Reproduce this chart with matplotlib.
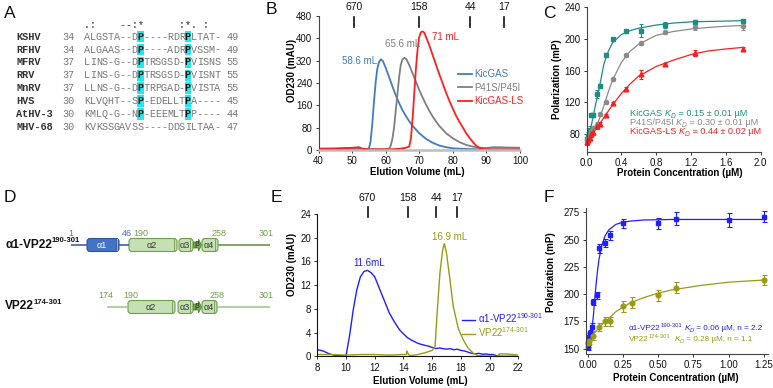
import numpy as np
import matplotlib
matplotlib.use("Agg")
import matplotlib.pyplot as plt
from matplotlib.patches import FancyBboxPatch, Rectangle, Polygon
from matplotlib.lines import Line2D
import matplotlib.transforms as mtrans

plt.rcParams['font.family'] = ['Liberation Sans', 'DejaVu Sans']
plt.rcParams['mathtext.fontset'] = 'custom'
plt.rcParams['mathtext.rm'] = 'Liberation Sans'
plt.rcParams['mathtext.it'] = 'Liberation Sans:italic'
plt.rcParams['mathtext.bf'] = 'Liberation Sans:bold'

# ---------------- Panel A data ----------------
aln_names = ['KSHV', 'RFHV', 'MFRV', 'RRV', 'MnRV', 'HVS', 'AtHV-3', 'MHV-68']
aln_start = [34, 34, 37, 37, 37, 30, 30, 30]
aln_seqs = ['ALGSTA--DP----RDRPLTAT-',
            'ALGAAS--DP----ADRPVSSM-',
            'LINS-G--DPTRSGSD-PVISNS',
            'LINS-G--DPTRSGSD-PVISNT',
            'LLNS-G--DPTRPGAD-PVISTA',
            'KLVQHT--SP-EDELLTPA----',
            'KMLQ-G--NP-EEEMLTPP----',
            'KVKSSGAVSS----DDSILTAA-']
aln_end = [49, 49, 55, 55, 55, 45, 44, 47]
aln_cons = '.:    --:*      :*. :'
aln_hl_cols = [9, 17]

# ---------------- Panel B data ----------------
b_std_vol = [50.5, 70.0, 85.2, 95.2]
b_std_lab = ['670', '158', '44', '17']
b_kic_x = [40, 45, 48, 52, 54, 55, 55.5, 56, 56.5, 57, 57.5, 58, 58.6, 59.2, 60, 61, 62, 63, 64, 65, 66, 67, 68, 70, 72, 74, 76, 78, 80, 85, 90, 100]
b_kic_y = [4, 6, 7, 4, 3, 5, 30, 90, 170, 240, 290, 315, 325, 318, 295, 262, 228, 196, 168, 143, 122, 103, 87, 60, 40, 26, 16, 10, 6, 3, 2, 2]
b_mut_x = [40, 50, 60, 61, 61.5, 62, 62.5, 63, 63.5, 64, 64.5, 65, 65.6, 66.2, 67, 68, 69, 70, 71, 72, 73, 74, 75, 76, 78, 80, 82, 84, 86, 88, 90, 92, 94, 96, 100]
b_mut_y = [3, 3, 3, 5, 15, 40, 80, 140, 200, 260, 305, 325, 330, 325, 305, 275, 245, 215, 188, 163, 140, 120, 102, 86, 60, 42, 28, 18, 12, 8, 7, 10, 10, 9, 8]
b_ls_x = [40, 45, 50, 52, 53, 55, 60, 64, 66, 67, 67.5, 68, 68.5, 69, 69.5, 70, 70.5, 71, 71.5, 72, 73, 74, 75, 76, 77, 78, 79, 80, 81, 82, 83, 84, 85, 86, 87, 88, 89, 90, 100]
b_ls_y = [5, 4, 8, 10, 5, 2, 2, 4, 8, 12, 40, 110, 200, 290, 360, 405, 422, 425, 420, 405, 375, 340, 305, 270, 238, 205, 175, 148, 122, 100, 80, 60, 43, 28, 15, 7, 3, 2, 2]
b_peaks = [58.6, 65.6, 71]
b_names = ['KicGAS', 'P41S/P45I', 'KicGAS-LS']

# ---------------- Panel C data ----------------
c_conc = [0.0, 0.015, 0.035, 0.055, 0.08, 0.12, 0.16, 0.225, 0.31, 0.45, 0.625, 0.9, 1.25, 1.8]
c_kic = [74, 78, 86, 104, 104, 130, 141, 180, 199, 209, 210, 217, 221, 222]
c_kic_err = [6, 5, 4, 2, 2, 5, 2, 2, 2, 2, 8, 4, 2, 2]
c_mut = [73, 76, 80, 84, 88, 92, 105, 120, 149, 179, 194, 208, 214, 216]
c_mut_err = [3, 3, 3, 2, 2, 3, 2, 2, 2, 2, 2, 2, 3, 5]
c_ls = [70, 73, 76, 80, 83, 90, 93, 104, 119, 137, 155, 168, 182, 187]
c_ls_err = [4, 3, 3, 3, 4, 3, 2, 2, 2, 2, 6, 2, 4, 2]
c_fit_x = [0, 0.05, 0.1, 0.15, 0.2, 0.25, 0.3, 0.4, 0.5, 0.6, 0.8, 1.0, 1.2, 1.4, 1.6, 1.8]
c_kic_fit = [72, 88, 115, 140, 168, 184, 195, 205, 210, 213, 217, 219.5, 221, 221.5, 222, 222.5]
c_mut_fit = [72, 77, 86, 100, 116, 133, 148, 170, 184, 193, 204, 209, 212, 214, 215.5, 216.5]
c_ls_fit = [70, 77, 85, 93, 101, 109, 117, 131, 143, 153, 165, 173, 180, 184.5, 187, 189]
c_kd = ['0.15 ± 0.01', '0.30 ± 0.01', '0.44 ± 0.02']

# ---------------- Panel E data ----------------
e_std_vol = [11.5, 14.3, 16.27, 17.7]
e_std_lab = ['670', '158', '44', '17']
e_a1_x = [8.0, 8.25, 8.5, 8.75, 9.0, 9.25, 9.5, 9.75, 10.0, 10.25, 10.5, 10.75, 11.0, 11.25, 11.5, 11.75, 12.0, 12.25, 12.5, 12.75, 13.0, 13.25, 13.5, 13.75, 14.0, 14.25, 14.5, 14.75, 15.0, 15.25, 15.5, 15.75, 16.0, 16.25, 16.5, 16.75, 17.0, 17.25, 17.5, 17.75, 18.0, 18.25, 18.5, 18.75, 19.0, 19.25, 19.5, 19.75, 20.0, 20.25, 20.5, 20.75, 21.0, 21.5, 22.0]
e_a1_y = [1.1, 1.0, 0.8, 0.5, 0.3, 0.15, 0.1, 0.1, 0.1, 3.5, 7.8, 11.2, 13.4, 14.3, 14.5, 14.1, 13.4, 11.9, 10.4, 8.9, 7.4, 6.3, 5.3, 4.4, 3.8, 3.2, 2.8, 2.5, 2.2, 2.0, 1.85, 1.7, 1.5, 1.3, 1.4, 1.3, 1.2, 1.3, 1.1, 1.2, 1.0, 0.9, 0.7, 0.5, 0.4, 0.5, 0.35, 0.4, 0.3, 0.3, 0.1, 0.0, 0.0, 0.0, 0.0]
e_vp_x = [8.0, 9.0, 10.0, 11.0, 12.0, 13.0, 14.0, 14.2, 14.25, 14.35, 14.5, 15.0, 15.5, 16.0, 16.2, 16.36, 16.54, 16.73, 16.85, 17.0, 17.24, 17.47, 17.82, 18.17, 18.52, 18.87, 19.2, 20.0, 20.5, 20.7, 21.2, 21.6, 22.0]
e_vp_y = [0.3, 0.3, 0.2, 0.3, 0.3, 0.2, 0.3, 0.3, 0.9, 0.3, 0.1, 0.3, 0.6, 1.0, 1.6, 7.8, 14.0, 17.9, 19.0, 17.4, 12.9, 8.4, 4.7, 2.75, 1.35, 0.5, 0.1, 0.05, 0.0, 0.4, 0.4, 0.3, 0.2]
e_peaks = ['11.6mL', '16.9 mL']

# ---------------- Panel F data ----------------
f_a1_x = [0.0, 0.0049, 0.0098, 0.0156, 0.0195, 0.031, 0.039, 0.0625, 0.078, 0.125, 0.156, 0.25, 0.5, 0.625, 1.0, 1.25]
f_a1_y = [152, 156, 161, 163, 164, 170, 193, 199, 242, 247, 254, 265, 265, 269, 268, 271]
f_a1_err = [3, 3, 3, 3, 3, 4, 3, 3, 4, 4, 4, 4, 5, 6, 6, 5]
f_vp_x = [0.0, 0.0098, 0.039, 0.078, 0.125, 0.156, 0.25, 0.3125, 0.5, 0.625, 1.25]
f_vp_y = [155, 157, 162, 170, 175, 175, 189, 192, 199, 206, 213]
f_vp_err = [3, 3, 4, 4, 4, 4, 5, 5, 5, 5, 5]
f_fit_x = [0, 0.01, 0.02, 0.03, 0.04, 0.05, 0.06, 0.07, 0.08, 0.1, 0.125, 0.15, 0.2, 0.25, 0.3, 0.4, 0.6, 0.8, 1.0, 1.25]
f_a1_fit = [152, 153.5, 158, 167, 180, 196, 210, 222, 232, 245, 254, 259, 264, 266, 267, 268, 268.5, 268.5, 268.5, 268.5]
f_vp_fit_x = [0, 0.05, 0.1, 0.15, 0.2, 0.25, 0.3, 0.4, 0.5, 0.6, 0.8, 1.0, 1.25]
f_vp_fit = [155, 165, 172, 178, 184, 188, 192, 197, 201, 204, 208, 211, 213]
f_labels = [('α1-VP22', '190-301', ' 0.06 µM, n = 2.2'), ('VP22', '174-301', ' 0.28 µM, n = 1.1')]

# ---------------- colors ----------------
B_COL = ['#3f7cc0', '#7f7f7f', '#ff1f1f']
C_COL = ['#1f8c84', '#8a8a8a', '#f02222']
E_COL = ['#1f1fff', '#9a9a14']
BLUE_D, BLUE_D_EDGE = '#4472c4', '#2f5597'
GREEN_FILL, GREEN_EDGE = '#c5e0b4', '#6f9f4c'

W, H = 773, 388
fig = plt.figure(figsize=(W / 100, H / 100), dpi=100, facecolor='white')


def rect(l, t, r, b):
    return [l / W, 1 - b / H, (r - l) / W, (b - t) / H]


def ftext(x, y, s, **kw):
    return fig.text(x / W, 1 - y / H, s, **kw)


def chain(ax, x, y, parts, transform, **common):
    s, kw = parts[0]
    prev = ax.text(x, y, s, transform=transform, ha='left', va='center', **common, **kw)
    for s, kw in parts[1:]:
        kw = dict(kw)
        dy = kw.pop('dy', 0)
        prev = ax.annotate(s, xy=(1, 0), xycoords=prev, xytext=(0, dy),
                           textcoords='offset points', ha='left', va='bottom', **common, **kw)


# ---------------- overlay axis (panels A, D, letters) ----------------
ov = fig.add_axes([0, 0, 1, 1], facecolor='none')
ov.set_xlim(0, W)
ov.set_ylim(H, 0)
ov.axis('off')

for lab, (x, y) in zip('ABCDEF', [(10, 13), (271.5, 10), (549, 13.7), (10, 198), (276, 198), (549, 198)]):
    ov.text(x, y, lab, ha='center', va='center', fontsize=12.5, color='#111')

# Panel A
seq_x0, cw, row_y0, row_dy = 84.0, 5.93, 36.7, 12.86
for c, ch in enumerate(aln_cons):
    if ch != ' ':
        ov.text(seq_x0 + (c + 0.5) * cw, 25, ch, ha='center', va='center',
                fontsize=7.1, family='Liberation Mono', color='#222')
for r, (nm, st, sq, en) in enumerate(zip(aln_names, aln_start, aln_seqs, aln_end)):
    yy = row_y0 + r * row_dy
    ov.text(16.5, yy, nm, ha='left', va='center', fontsize=7.4, family='Liberation Mono',
            weight='bold', color='#333')
    ov.text(62, yy, str(st), ha='left', va='center', fontsize=7.3, family='Liberation Mono', color='#777')
    ov.text(seq_x0 + 24 * cw, yy, str(en), ha='left', va='center', fontsize=7.3,
            family='Liberation Mono', color='#777')
    for c, ch in enumerate(sq):
        hl = c in aln_hl_cols and ch == 'P'
        if hl:
            ov.add_patch(Rectangle((seq_x0 + c * cw - 0.2, yy - 5.7), cw + 0.4, 11.4,
                                   fc='#1fe8f0', ec='none'))
        ov.text(seq_x0 + (c + 0.5) * cw, yy, ch, ha='center', va='center', fontsize=7.3,
                family='Liberation Mono', color='#111' if hl else '#777',
                weight='bold' if hl else 'normal')

# Panel D schematic (layout units = pixels in the figure)
d_rows = [
    dict(y=245, name='α1-VP22', sup='190-301', ly=244.5,
         lines=[(71, 87, BLUE_D_EDGE), (119, 129, BLUE_D_EDGE), (218, 270, '#5e8f3c')],
         helices=[('α1', 87, 119, 'blue'), ('α2', 129, 177, 'g'), ('α3', 179, 193, 'g'), ('α4', 202, 218, 'g')],
         strand=(193.5, 201.5),
         nums=[('1', 71, BLUE_D), ('46', 126.5, BLUE_D), ('190', 140.5, '#6f9f4c'), ('258', 219, '#6f9f4c'), ('301', 266, '#6f9f4c')],
         ny=234),
    dict(y=307, name='VP22', sup='174-301', ly=306,
         lines=[(107, 128, '#9cc482'), (217, 270, '#9cc482')],
         helices=[('α2', 128, 175, 'g'), ('α3', 178, 193, 'g'), ('α4', 202, 217, 'g')],
         strand=(193.5, 201.5),
         nums=[('174', 106, '#6f9f4c'), ('190', 131, '#6f9f4c'), ('258', 216.7, '#6f9f4c'), ('301', 266, '#6f9f4c')],
         ny=295),
]
for row in d_rows:
    yc = row['y']
    chain(ov, 5, row['ly'], [(row['name'], dict(fontsize=8.6, weight='bold')),
                             (row['sup'], dict(fontsize=5.6, weight='bold', dy=4.4))],
          transform=ov.transData, color='#111')
    for x0, x1, col in row['lines']:
        ov.plot([x0, x1], [yc, yc], color=col, lw=1.1, solid_capstyle='butt')
    for lab, x0, x1, kind in row['helices']:
        h = 13
        if kind == 'blue':
            fc, ec, tc = BLUE_D, BLUE_D_EDGE, 'white'
        else:
            fc, ec, tc = GREEN_FILL, GREEN_EDGE, '#333'
        ov.add_patch(FancyBboxPatch((x0, yc - h / 2), x1 - x0, h,
                                    boxstyle='round,pad=0,rounding_size=3', fc=fc, ec=ec, lw=0.8))
        if kind == 'blue':
            ov.add_patch(Rectangle((x1 - 3.3, yc - h / 2 + 0.6), 2.6, h - 1.2, fc='#8fb0e6', ec='none'))
        ov.plot([x1 - 3, x1 - 3], [yc - h / 2 + 0.6, yc + h / 2 - 0.6], color=ec, lw=0.6)
        ov.text((x0 + x1) / 2 - 1.2, yc, lab, ha='center', va='center', fontsize=6.5, color=tc)
    s0, s1 = row['strand']
    ov.add_patch(Polygon([(s0, yc - 3), (s1 - 3, yc - 3), (s1 - 3, yc - 6), (s1, yc),
                          (s1 - 3, yc + 6), (s1 - 3, yc + 3), (s0, yc + 3)],
                         closed=True, fc='#7fae5a', ec='#4f7f30', lw=0.6))
    ov.text((s0 + s1) / 2 - 0.5, yc, 'β', ha='center', va='center', fontsize=6, color='#222')
    for lab, x, col in row['nums']:
        ov.text(x, row['ny'], lab, ha='center', va='center', fontsize=6.5, color=col)


def style_axis(ax, lcol='#333', bcol='#333', lw_b=0.8):
    for s in ['top', 'right']:
        ax.spines[s].set_visible(False)
    ax.spines['left'].set_color(lcol)
    ax.spines['left'].set_linewidth(0.8)
    ax.spines['bottom'].set_color(bcol)
    ax.spines['bottom'].set_linewidth(lw_b)
    ax.tick_params(axis='both', labelsize=7, length=2.5, width=0.7, pad=2, colors='#333',
                   labelcolor='#111', direction='out')


# ---------------- Panel B ----------------
axB = fig.add_axes(rect(318.5, 16, 520, 150), facecolor='none')
for xs, ys, col in zip([b_kic_x, b_mut_x, b_ls_x], [b_kic_y, b_mut_y, b_ls_y], B_COL):
    axB.plot(xs, ys, color=col, lw=1.3)
axB.set_xlim(40, 100)
axB.set_ylim(0, 480)
axB.set_xticks(range(40, 101, 10))
axB.set_yticks(range(0, 481, 80))
style_axis(axB, lcol='#444', bcol='#bdbdbd', lw_b=1.8)
trB = mtrans.blended_transform_factory(axB.transData, axB.transAxes)
for v, lab in zip(b_std_vol, b_std_lab):
    axB.plot([v, v], [0.918, 0.993], transform=trB, color='#111', lw=1.2, clip_on=False)
    axB.text(v, 1.067, lab, transform=trB, ha='center', va='center', fontsize=7.5, color='#111')
axB.text(57.4, 320, f'{b_peaks[0]} mL', color=B_COL[0], fontsize=7, ha='right', va='center')
axB.text(65.0, 380, f'{b_peaks[1]} mL', color=B_COL[1], fontsize=7, ha='center', va='center')
axB.text(73.9, 404, f'{b_peaks[2]:g} mL', color=B_COL[2], fontsize=7, ha='left', va='center')
hB = [Line2D([], [], color=c, lw=1.3) for c in B_COL]
axB.legend(hB, b_names, loc='upper left', bbox_to_anchor=(0.693, 0.605), frameon=False, fontsize=7,
           handlelength=1.4, handletextpad=0.3, labelspacing=0.38, borderpad=0, borderaxespad=0,
           labelcolor='linecolor')
ftext(292, 70, 'OD230 (mAU)', rotation=90, ha='center', va='center', fontsize=7, weight='bold')
ftext(417, 172, 'Elution Volume (mL)', ha='center', va='center', fontsize=7, weight='bold')

# ---------------- Panel C ----------------
axC = fig.add_axes(rect(586.5, 6.7, 760.5, 151.7), facecolor='none')
for ys, fit, err, col, mk, ms in zip([c_kic, c_mut, c_ls], [c_kic_fit, c_mut_fit, c_ls_fit],
                                     [c_kic_err, c_mut_err, c_ls_err], C_COL, ['s', 'o', '^'], [3, 3, 3.4]):
    axC.plot(c_fit_x, fit, color=col, lw=0.9)
    axC.errorbar(c_conc, ys, yerr=err, fmt=mk, color=col, ms=ms, elinewidth=0.8, capsize=1.6,
                 capthick=0.8, clip_on=False)
axC.set_xlim(0, 2.0)
axC.set_ylim(58.2, 240)
axC.set_xticks(np.arange(0, 2.01, 0.4))
axC.set_xticklabels(['0.0', '0.4', '0.8', '1.2', '1.6', '2.0'])
axC.set_yticks(range(80, 241, 40))
style_axis(axC, lcol='#444', bcol='#444')
for i, (nm, kd) in enumerate(zip(b_names, c_kd)):
    chain(axC, 0.5, [106.3, 94.6, 82.9][i],
          [(nm + ' ', dict(fontsize=6.6)),
           ('K', dict(fontsize=6.6, style='italic')),
           ('D', dict(fontsize=4.8, style='italic', dy=-1.2)),
           (' = ' + kd + ' µM', dict(fontsize=6.6, dy=1.2))],
          transform=axC.transData, color=C_COL[i])
ftext(557, 79, 'Polarization (mP)', rotation=90, ha='center', va='center', fontsize=7, weight='bold')
ftext(680, 173, 'Protein Concentration (µM)', ha='center', va='center', fontsize=7, weight='bold')

# ---------------- Panel E ----------------
axE = fig.add_axes(rect(317.3, 214, 518.3, 356.3), facecolor='none')
axE.plot(e_a1_x, e_a1_y, color=E_COL[0], lw=1.0)
axE.plot(e_vp_x, e_vp_y, color=E_COL[1], lw=1.0)
axE.set_xlim(8, 22)
axE.set_ylim(0, 24)
axE.set_xticks(range(8, 23, 2))
axE.set_yticks(range(0, 25, 4))
style_axis(axE, lcol='#111', bcol='#111')
trE = mtrans.blended_transform_factory(axE.transData, axE.transAxes)
for v, lab in zip(e_std_vol, e_std_lab):
    axE.plot([v, v], [0.977, 1.051], transform=trE, color='#111', lw=1.2, clip_on=False)
    axE.text(v, 1.112, lab, transform=trE, ha='center', va='center', fontsize=7.5, color='#111')
axE.text(11.6, 15.7, e_peaks[0], color=E_COL[0], fontsize=7, ha='center', va='center')
axE.text(17.24, 20.1, e_peaks[1], color=E_COL[1], fontsize=7, ha='center', va='center')
hE = [Line2D([], [], color=c, lw=1.0) for c in E_COL]
axE.legend(hE, [r'α1-VP22$^{\text{190-301}}$', r'VP22$^{\text{174-301}}$'], loc='upper left',
           bbox_to_anchor=(0.721, 0.315), frameon=False, fontsize=7, handlelength=1.35,
           handletextpad=0.25, labelspacing=0.0, borderpad=0, borderaxespad=0, labelcolor='linecolor')
ftext(292, 264, 'OD230 (mAU)', rotation=90, ha='center', va='center', fontsize=7, weight='bold')
ftext(420.5, 381, 'Elution Volume (mL)', ha='center', va='center', fontsize=7, weight='bold')

# ---------------- Panel F ----------------
axF = fig.add_axes(rect(585.6, 208.0, 768.2, 354.2), facecolor='none')
axF.plot(f_fit_x, f_a1_fit, color=E_COL[0], lw=0.9)
axF.plot(f_vp_fit_x, f_vp_fit, color=E_COL[1], lw=0.9)
axF.errorbar(f_a1_x, f_a1_y, yerr=f_a1_err, fmt='s', color=E_COL[0], ms=3.3, elinewidth=0.8,
             capsize=1.8, capthick=0.8, clip_on=False)
axF.errorbar(f_vp_x, f_vp_y, yerr=f_vp_err, fmt='o', color=E_COL[1], ms=3.4, elinewidth=0.8,
             capsize=1.8, capthick=0.8, clip_on=False)
axF.set_xlim(-0.015, 1.28)
axF.set_ylim(145, 279)
axF.set_xticks([0, 0.25, 0.5, 0.75, 1.0, 1.25])
axF.set_xticklabels(['0.00', '0.25', '0.50', '0.75', '1.00', '1.25'])
axF.set_yticks(range(150, 276, 25))
style_axis(axF, lcol='#444', bcol='#444')
for i, (nm, sup, rest) in enumerate(f_labels):
    chain(axF, 0.29, [169, 158.9][i],
          [(nm, dict(fontsize=5.9)),
           (sup, dict(fontsize=4.2, dy=2.8)),
           (' ' if i == 0 else '  ', dict(fontsize=5.9, dy=-2.8)),
           ('K', dict(fontsize=5.9, style='italic')),
           ('D', dict(fontsize=4.2, style='italic', dy=-1.1)),
           (' =' + rest, dict(fontsize=5.9, dy=1.1))],
          transform=axF.transData, color=E_COL[i])
ftext(551, 272, 'Polarization (mP)', rotation=90, ha='center', va='center', fontsize=7, weight='bold')
ftext(675.5, 378, 'Protein Concentration (µM)', ha='center', va='center', fontsize=7, weight='bold')

fig.savefig('out.png', dpi=100, facecolor='white')
